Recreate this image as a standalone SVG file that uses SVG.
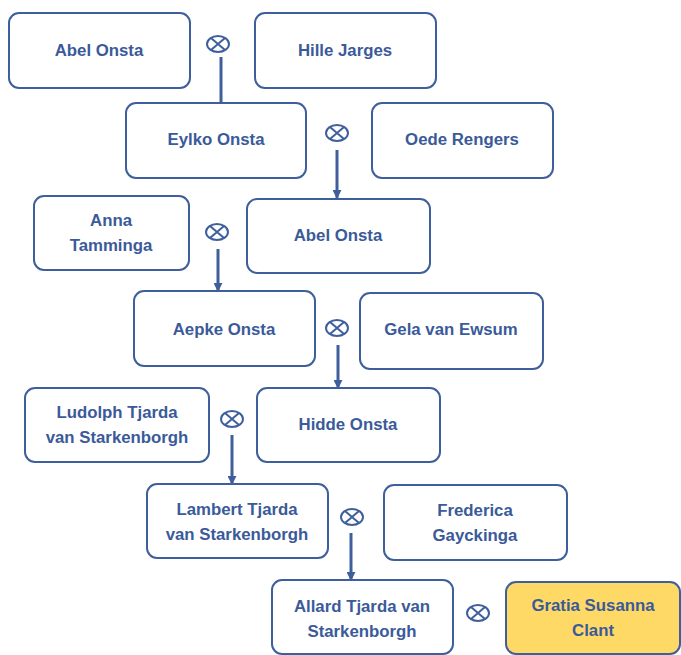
<svg xmlns="http://www.w3.org/2000/svg" width="681" height="655" viewBox="0 0 681 655">
<style>
.box{fill:#fff;stroke:#3F5F9C;stroke-width:2}
.hl{fill:#FFD966}
.t{font-family:"Liberation Sans",Arial,sans-serif;font-weight:bold;font-size:16.8px;fill:#3A5A9A;text-anchor:middle}
.m{fill:none;stroke:#3F5F9C;stroke-width:2}
.c{fill:none;stroke:#3F5F9C;stroke-width:3}
</style>
<defs>
<marker id="ah" viewBox="0 0 10 10" refX="9" refY="5" markerWidth="3" markerHeight="3" orient="auto">
<path d="M0,0 L10,5 L0,10 z" fill="#3F5F9C"/>
</marker>
<g id="sym"><ellipse cx="0" cy="0" rx="11" ry="8" class="m"/><path d="M-7,-6 L7,6 M-7,6 L7,-6" class="m"/></g>
</defs>
<rect width="681" height="655" fill="#fff"/>
<g id="connectors">
<use href="#sym" x="218" y="44"/>
<line x1="221" y1="57" x2="221" y2="102" class="c"/>
<use href="#sym" x="337" y="133"/>
<line x1="337" y1="150" x2="337" y2="198" class="c" marker-end="url(#ah)"/>
<use href="#sym" x="217" y="232"/>
<line x1="218" y1="249" x2="218" y2="291" class="c" marker-end="url(#ah)"/>
<use href="#sym" x="337" y="328"/>
<line x1="338" y1="345" x2="338" y2="388" class="c" marker-end="url(#ah)"/>
<use href="#sym" x="232" y="419"/>
<line x1="232" y1="435" x2="232" y2="484" class="c" marker-end="url(#ah)"/>
<use href="#sym" x="352" y="517"/>
<line x1="351" y1="533" x2="351" y2="580" class="c" marker-end="url(#ah)"/>
<use href="#sym" x="478" y="613"/>
</g>
<g id="n1"><rect class="box" x="9" y="13" width="181" height="75" rx="10"/><text class="t" x="99" y="56">Abel Onsta</text></g>
<g id="n2"><rect class="box" x="255" y="13" width="181" height="75" rx="10"/><text class="t" x="345" y="56">Hille Jarges</text></g>
<g id="n3"><rect class="box" x="126" y="103" width="180" height="75" rx="10"/><text class="t" x="216" y="145">Eylko Onsta</text></g>
<g id="n4"><rect class="box" x="372" y="103" width="181" height="75" rx="10"/><text class="t" x="462" y="145">Oede Rengers</text></g>
<g id="n5"><rect class="box" x="34" y="196" width="155" height="74" rx="10"/><text class="t" x="111" y="226">Anna</text><text class="t" x="111" y="251">Tamminga</text></g>
<g id="n6"><rect class="box" x="247" y="199" width="183" height="74" rx="10"/><text class="t" x="338" y="241">Abel Onsta</text></g>
<g id="n7"><rect class="box" x="134" y="291" width="181" height="75" rx="10"/><text class="t" x="224" y="335">Aepke Onsta</text></g>
<g id="n8"><rect class="box" x="360" y="293" width="183" height="76" rx="10"/><text class="t" x="451" y="335">Gela van Ewsum</text></g>
<g id="n9"><rect class="box" x="25" y="388" width="184" height="74" rx="10"/><text class="t" x="117" y="418">Ludolph Tjarda</text><text class="t" x="117" y="443">van Starkenborgh</text></g>
<g id="n10"><rect class="box" x="257" y="388" width="183" height="74" rx="10"/><text class="t" x="348" y="430">Hidde Onsta</text></g>
<g id="n11"><rect class="box" x="147" y="484" width="181" height="74" rx="10"/><text class="t" x="237" y="515">Lambert Tjarda</text><text class="t" x="237" y="540">van Starkenborgh</text></g>
<g id="n12"><rect class="box" x="384" y="485" width="183" height="75" rx="10"/><text class="t" x="475" y="516">Frederica</text><text class="t" x="475" y="541">Gayckinga</text></g>
<g id="n13"><rect class="box" x="272" y="580" width="181" height="74" rx="10"/><text class="t" x="362" y="612">Allard Tjarda van</text><text class="t" x="362" y="637">Starkenborgh</text></g>
<g id="n14"><rect class="box hl" x="506" y="582" width="174" height="72" rx="10"/><text class="t" x="593" y="611">Gratia Susanna</text><text class="t" x="593" y="636">Clant</text></g>
</svg>
